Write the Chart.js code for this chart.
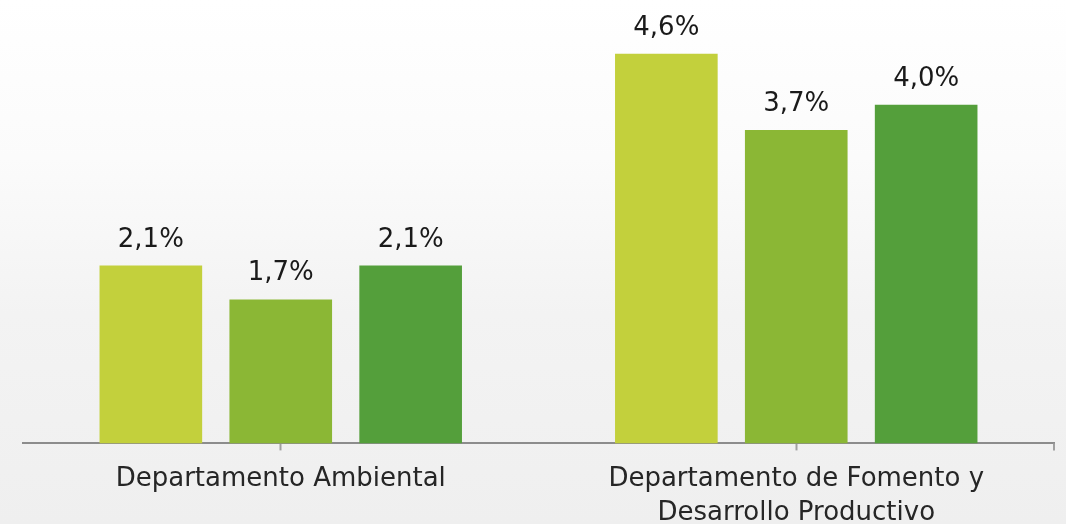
<!DOCTYPE html>
<html>
<head>
<meta charset="utf-8">
<script src="https://cdn.jsdelivr.net/npm/chart.js@4"></script>
<style>
  html, body { margin: 0; padding: 0; }
  body {
    width: 1066px; height: 524px; overflow: hidden;
    background: linear-gradient(180deg, #ffffff 0%, #fbfbfb 30%, #f3f3f3 60%, #efefef 100%);
  }
  #wrap { position: relative; width: 1066px; height: 542px; }
</style>
</head>
<body>
<div id="wrap"><canvas id="chart"></canvas></div>
<script>
const categorias = [
    "Departamento Ambiental",
    ["Departamento de Fomento y", "Desarrollo Productivo"]
];
const serie1 = [2.1, 4.6];
const serie2 = [1.7, 3.7];
const serie3 = [2.1, 4.0];
const colores = ["#c3d03c", "#8bb735", "#549f3b"];

const fmt = (v) => v.toFixed(1).replace(".", ",") + "%";

// etiquetas encima de cada barra
const etiquetas = {
    id: "etiquetas",
    afterDatasetsDraw(chart) {
        const ctx = chart.ctx;
        ctx.save();
        ctx.font = "26px 'DejaVu Sans'";
        ctx.fillStyle = "#1a1a1a";
        ctx.textAlign = "center";
        ctx.textBaseline = "alphabetic";
        chart.data.datasets.forEach((ds, i) => {
            chart.getDatasetMeta(i).data.forEach((bar, j) => {
                ctx.fillText(fmt(ds.data[j]), bar.x, bar.y - 19);
            });
        });
        ctx.restore();
    }
};

// marca al final del eje
const marcaFinal = {
    id: "marcaFinal",
    afterDraw(chart) {
        const a = chart.chartArea;
        const ctx = chart.ctx;
        ctx.save();
        ctx.strokeStyle = "#a0a0a0";
        ctx.lineWidth = 2;
        ctx.beginPath();
        ctx.moveTo(a.right, a.bottom);
        ctx.lineTo(a.right, a.bottom + 7);
        ctx.stroke();
        ctx.restore();
    }
};

new Chart(document.getElementById("chart"), {
    type: "bar",
    data: {
        labels: categorias,
        datasets: [
            { data: serie1, backgroundColor: colores[0] },
            { data: serie2, backgroundColor: colores[1] },
            { data: serie3, backgroundColor: colores[2] }
        ]
    },
    options: {
        responsive: true,
        maintainAspectRatio: false,
        animation: false,
        categoryPercentage: 0.756,
        barPercentage: 0.79,
        layout: { padding: { left: 23, right: 12, top: 20, bottom: 0 } },
        plugins: { legend: { display: false }, tooltip: { enabled: false } },
        scales: {
            y: { display: false, min: 0, max: 5 },
            x: {
                grid: {
                    offset: false,
                    drawOnChartArea: false,
                    drawTicks: true,
                    tickLength: 7,
                    tickWidth: 2,
                    tickColor: "#a0a0a0"
                },
                border: { color: "#8c8c8c", width: 2 },
                ticks: {
                    color: "#262626",
                    font: { family: "'DejaVu Sans'", size: 26, lineHeight: 1.3 },
                    padding: 12,
                    maxRotation: 0,
                    autoSkip: false
                }
            }
        }
    },
    plugins: [etiquetas, marcaFinal]
});
</script>
</body>
</html>
